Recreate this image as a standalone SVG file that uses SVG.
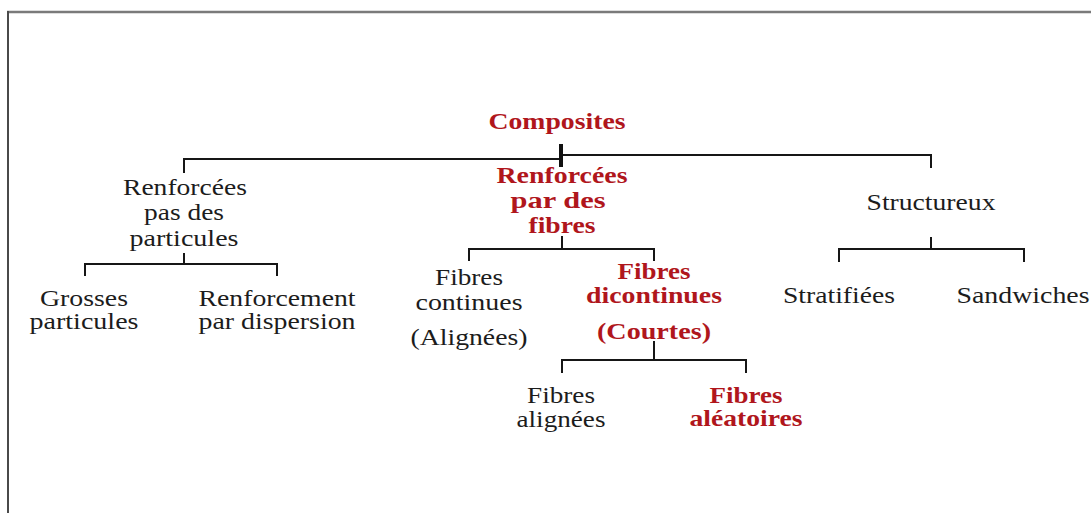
<svg xmlns="http://www.w3.org/2000/svg" width="1091" height="515" viewBox="0 0 1091 515">
<style>
text{font-size:23px;text-anchor:middle}
.n{fill:#1c1c1c}
.r{fill:#b0161c;font-weight:bold}
.c{stroke:#161616;stroke-width:2;fill:none}
</style>
<rect width="1091" height="515" fill="#fff"/>
<g id="frame">
<line x1="7" y1="12" x2="1091" y2="12" stroke="#7a7a7a" stroke-width="2.5"/>
<line x1="8" y1="11" x2="8" y2="513" stroke="#4a4a4a" stroke-width="2"/>
</g>
<g id="connectors">
<polyline class="c" points="184,173 184,159 561,159"/>
<polyline class="c" points="561,155 931,155 931,168"/>
<line x1="561" y1="144" x2="561" y2="167" stroke="#111" stroke-width="4"/>
<polyline class="c" points="85,276 85,264 277,264 277,276"/>
<line class="c" x1="184" y1="253" x2="184" y2="264"/>
<polyline class="c" points="469,261 469,249 654,249 654,261"/>
<line class="c" x1="562" y1="236" x2="562" y2="249"/>
<polyline class="c" points="562,373 562,360 746,360 746,373"/>
<line class="c" x1="654" y1="341" x2="654" y2="360"/>
<polyline class="c" points="839,262 839,249 1024,249 1024,262"/>
<line class="c" x1="931" y1="237" x2="931" y2="249"/>
</g>
<g font-family="'Liberation Serif', 'DejaVu Serif', serif">
<g id="composites"><text class="r" x="557" y="129" textLength="137" lengthAdjust="spacingAndGlyphs">Composites</text></g>
<g id="particules">
<text class="n" x="185" y="195" textLength="124" lengthAdjust="spacingAndGlyphs">Renforcées</text>
<text class="n" x="184" y="220" textLength="80" lengthAdjust="spacingAndGlyphs">pas des</text>
<text class="n" x="184" y="246" textLength="109" lengthAdjust="spacingAndGlyphs">particules</text>
</g>
<g id="fibres">
<text class="r" x="562" y="183" textLength="131" lengthAdjust="spacingAndGlyphs">Renforcées</text>
<text class="r" x="558" y="208" textLength="95" lengthAdjust="spacingAndGlyphs">par des</text>
<text class="r" x="562" y="233" textLength="67" lengthAdjust="spacingAndGlyphs">fibres</text>
</g>
<g id="structureux"><text class="n" x="931" y="210" textLength="129" lengthAdjust="spacingAndGlyphs">Structureux</text></g>
<g id="grosses">
<text class="n" x="84" y="306" textLength="88" lengthAdjust="spacingAndGlyphs">Grosses</text>
<text class="n" x="84" y="329" textLength="109" lengthAdjust="spacingAndGlyphs">particules</text>
</g>
<g id="dispersion">
<text class="n" x="277" y="306" textLength="157" lengthAdjust="spacingAndGlyphs">Renforcement</text>
<text class="n" x="277" y="329" textLength="157" lengthAdjust="spacingAndGlyphs">par dispersion</text>
</g>
<g id="continues">
<text class="n" x="469" y="285" textLength="68" lengthAdjust="spacingAndGlyphs">Fibres</text>
<text class="n" x="469" y="310" textLength="107" lengthAdjust="spacingAndGlyphs">continues</text>
<text class="n" x="469" y="345" textLength="117" lengthAdjust="spacingAndGlyphs">(Alignées)</text>
</g>
<g id="discontinues">
<text class="r" x="654" y="279" textLength="73" lengthAdjust="spacingAndGlyphs">Fibres</text>
<text class="r" x="654" y="303" textLength="136" lengthAdjust="spacingAndGlyphs">dicontinues</text>
<text class="r" x="654" y="339" textLength="114" lengthAdjust="spacingAndGlyphs">(Courtes)</text>
</g>
<g id="alignees">
<text class="n" x="561" y="403" textLength="68" lengthAdjust="spacingAndGlyphs">Fibres</text>
<text class="n" x="561" y="427" textLength="89" lengthAdjust="spacingAndGlyphs">alignées</text>
</g>
<g id="aleatoires">
<text class="r" x="746" y="403" textLength="73" lengthAdjust="spacingAndGlyphs">Fibres</text>
<text class="r" x="746" y="426" textLength="113" lengthAdjust="spacingAndGlyphs">aléatoires</text>
</g>
<g id="stratifiees"><text class="n" x="839" y="303" textLength="112" lengthAdjust="spacingAndGlyphs">Stratifiées</text></g>
<g id="sandwiches"><text class="n" x="1023" y="303" textLength="133" lengthAdjust="spacingAndGlyphs">Sandwiches</text></g>
</g>
</svg>
